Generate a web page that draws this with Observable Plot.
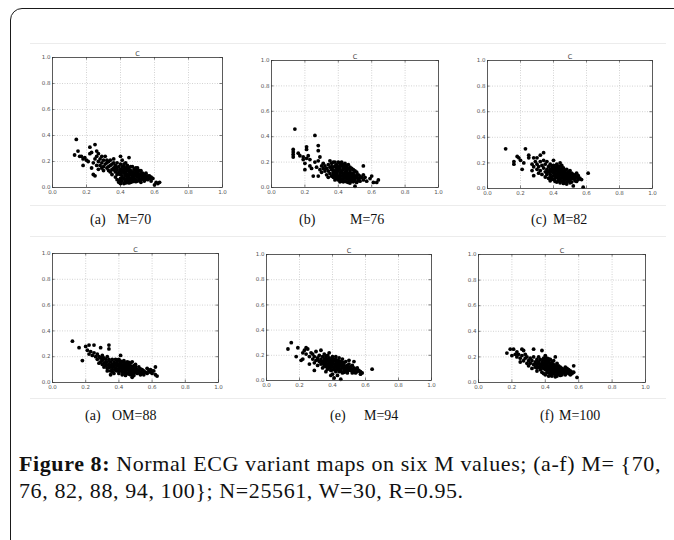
<!DOCTYPE html>
<html>
<head>
<meta charset="utf-8">
<script src="https://cdn.jsdelivr.net/npm/d3@7"></script>
<script src="https://cdn.jsdelivr.net/npm/@observablehq/plot@0.6"></script>
<style>
  html, body { margin: 0; padding: 0; background: #fff; }
  #page { position: relative; width: 674px; height: 540px; overflow: hidden; background: #fff; }
  #border { position: absolute; left: 10px; top: 8px; width: 760px; height: 640px; border: 1.8px solid #1a1a1a; border-top-left-radius: 12px; box-sizing: border-box; }
  .hair { position: absolute; height: 0; border-top: 1px solid #ececec; }
  .panel { position: absolute; }
  .cap { position: absolute; font-family: "Liberation Serif", "DejaVu Serif", serif; font-size: 14px; line-height: 16px; white-space: pre; color: #111; }
  #fig { position: absolute; left: 19px; top: 450px; font-family: "Liberation Serif", "DejaVu Serif", serif; font-size: 22px; line-height: 27px; color: #111; white-space: nowrap; }
</style>
</head>
<body>
<div id="page">
  <div id="border"></div>
</div>
<script>
// ---- data: (x, y) points ----
const ticks = [0.0, 0.2, 0.4, 0.6, 0.8, 1.0];
const panelTitle = "C";
const capLabels = ["(a)", "(b)", "(c)", "(a)", "(e)", "(f)"];
const capValues = ["M=70", "M=76", "M=82", "OM=88", "M=94", "M=100"];
const figLabel = "Figure 8:";
const figLine1 = " Normal ECG variant maps on six M values; (a-f) M= {70,";
const figLine2 = "76, 82, 88, 94, 100}; N=25561, W=30, R=0.95.";

const ptsA = [[.14,.37],[.13,.25],[.15,.28],[.16,.24],[.17,.24],[.18,.22],[.18,.17],[.19,.23],[.20,.21],[.21,.20],[.22,.31],[.22,.26],[.23,.27],[.23,.15],[.24,.19],[.24,.10],[.25,.33],[.25,.09],[.25,.22],[.26,.28],[.26,.24],[.26,.17],[.27,.26],[.27,.20],[.27,.14],[.28,.22],[.28,.17],[.29,.19],[.29,.15],[.29,.24],[.30,.21],[.30,.16],[.30,.13],[.31,.24],[.31,.18],[.32,.19],[.32,.15],[.32,.21],[.33,.16],[.33,.13],[.33,.20],[.34,.21],[.34,.17],[.34,.12],[.35,.18],[.35,.14],[.35,.10],[.36,.15],[.36,.22],[.36,.19],[.37,.12],[.37,.17],[.37,.08],[.38,.19],[.38,.14],[.38,.10],[.38,.06],[.39,.16],[.39,.12],[.39,.04],[.40,.24],[.40,.18],[.40,.14],[.40,.10],[.40,.07],[.40,.03],[.41,.21],[.41,.16],[.41,.12],[.41,.09],[.41,.05],[.42,.18],[.42,.14],[.42,.11],[.42,.07],[.42,.03],[.43,.19],[.43,.15],[.43,.12],[.43,.09],[.43,.05],[.44,.17],[.44,.13],[.44,.10],[.44,.07],[.44,.04],[.45,.23],[.45,.15],[.45,.12],[.45,.08],[.45,.05],[.46,.16],[.46,.13],[.46,.10],[.46,.07],[.46,.04],[.47,.16],[.47,.12],[.47,.09],[.47,.06],[.48,.14],[.48,.11],[.48,.08],[.48,.05],[.49,.15],[.49,.12],[.49,.09],[.49,.06],[.50,.15],[.50,.11],[.50,.08],[.50,.05],[.51,.13],[.51,.10],[.51,.07],[.52,.13],[.52,.09],[.52,.06],[.52,.04],[.53,.11],[.53,.08],[.54,.10],[.54,.07],[.54,.05],[.55,.11],[.55,.08],[.56,.09],[.56,.06],[.57,.09],[.57,.07],[.58,.08],[.58,.05],[.59,.07],[.61,.04],[.62,.03],[.63,.04],[.60,.02],
  [.39,.055],[.41,.075],[.43,.065],[.45,.095],[.47,.075],[.49,.105],[.51,.085],[.53,.065],[.42,.125],[.44,.085],[.46,.115],[.48,.095],[.50,.125],[.40,.125],[.38,.155],[.42,.165],[.44,.145],[.46,.055],[.48,.065],[.50,.095],[.52,.115],[.54,.085],[.56,.075],[.43,.035],[.45,.035],[.47,.045],[.49,.045],[.51,.055],[.36,.135],[.37,.145],[.39,.105],[.41,.135],[.43,.105],[.45,.135],[.47,.105],[.49,.135],[.40,.045],[.44,.055],[.53,.095],[.55,.065]];

const ptsB = [[.14,.46],[.26,.41],[.28,.33],[.13,.30],[.13,.28],[.13,.26],[.13,.24],[.16,.27],[.17,.25],[.19,.24],[.19,.22],[.21,.32],[.21,.30],[.21,.23],[.22,.25],[.23,.22],[.20,.19],[.20,.14],[.23,.17],[.24,.15],[.25,.09],[.26,.20],[.27,.16],[.28,.29],[.28,.21],[.28,.09],[.29,.24],[.29,.14],[.30,.17],[.30,.12],[.31,.15],[.31,.19],[.32,.13],[.32,.17],[.33,.15],[.33,.10],[.34,.18],[.34,.13],[.34,.08],[.35,.21],[.35,.16],[.35,.11],[.36,.19],[.36,.14],[.36,.09],[.37,.20],[.37,.16],[.37,.12],[.37,.08],[.38,.20],[.38,.17],[.38,.13],[.38,.10],[.38,.06],[.39,.18],[.39,.15],[.39,.11],[.39,.07],[.40,.20],[.40,.16],[.40,.13],[.40,.09],[.40,.06],[.41,.19],[.41,.15],[.41,.11],[.41,.07],[.42,.20],[.42,.17],[.42,.13],[.42,.09],[.42,.05],[.43,.18],[.43,.14],[.43,.11],[.43,.07],[.44,.19],[.44,.16],[.44,.12],[.44,.09],[.44,.05],[.45,.17],[.45,.14],[.45,.10],[.45,.07],[.46,.18],[.46,.15],[.46,.11],[.46,.08],[.46,.04],[.47,.16],[.47,.12],[.47,.09],[.47,.06],[.48,.15],[.48,.11],[.48,.08],[.48,.05],[.49,.14],[.49,.10],[.49,.07],[.50,.13],[.50,.09],[.50,.06],[.50,.01],[.51,.12],[.51,.08],[.51,.04],[.52,.10],[.52,.07],[.53,.09],[.53,.05],[.54,.08],[.55,.17],[.55,.10],[.55,.06],[.56,.08],[.57,.05],[.59,.07],[.60,.09],[.61,.04],[.63,.04],[.64,.06],
  [.38,.085],[.40,.075],[.42,.065],[.44,.075],[.46,.065],[.48,.065],[.50,.075],[.39,.125],[.41,.095],[.43,.095],[.45,.085],[.47,.075],[.49,.085],[.51,.095],[.40,.145],[.42,.115],[.44,.105],[.46,.095],[.48,.095],[.37,.105],[.39,.165],[.41,.175],[.43,.155],[.45,.125],[.47,.105],[.42,.185],[.44,.175],[.36,.165],[.43,.045],[.45,.045],[.47,.035],[.49,.045],[.52,.055],[.41,.045],[.39,.095],[.37,.135],[.45,.155],[.47,.135],[.49,.115],[.53,.075]];

const ptsC = [[.11,.31],[.23,.31],[.16,.21],[.16,.19],[.18,.25],[.19,.24],[.20,.22],[.21,.15],[.22,.20],[.25,.26],[.25,.24],[.28,.24],[.30,.24],[.32,.26],[.34,.28],[.27,.14],[.28,.10],[.27,.19],[.28,.17],[.29,.21],[.30,.15],[.30,.19],[.31,.12],[.31,.17],[.32,.21],[.32,.14],[.33,.18],[.33,.11],[.34,.16],[.34,.22],[.35,.13],[.35,.19],[.35,.09],[.36,.15],[.36,.21],[.36,.11],[.37,.17],[.37,.13],[.37,.08],[.38,.19],[.38,.15],[.38,.11],[.38,.06],[.39,.17],[.39,.13],[.39,.09],[.40,.22],[.40,.18],[.40,.14],[.40,.10],[.40,.07],[.41,.16],[.41,.12],[.41,.08],[.42,.19],[.42,.15],[.42,.11],[.42,.05],[.43,.17],[.43,.13],[.43,.09],[.43,.06],[.44,.20],[.44,.15],[.44,.11],[.44,.08],[.45,.18],[.45,.13],[.45,.10],[.45,.06],[.46,.16],[.46,.12],[.46,.08],[.46,.04],[.47,.14],[.47,.11],[.47,.07],[.48,.15],[.48,.12],[.48,.09],[.48,.05],[.49,.13],[.49,.10],[.49,.06],[.50,.14],[.50,.11],[.50,.07],[.51,.12],[.51,.09],[.51,.05],[.52,.11],[.52,.08],[.53,.10],[.53,.06],[.52,.02],[.54,.09],[.54,.12],[.55,.07],[.55,.10],[.56,.08],[.57,.07],[.58,.01],[.61,.12],
  [.38,.085],[.40,.125],[.42,.095],[.44,.065],[.46,.105],[.48,.075],[.50,.095],[.41,.105],[.43,.075],[.45,.085],[.47,.095],[.49,.085],[.51,.075],[.39,.145],[.41,.145],[.43,.115],[.45,.115],[.47,.125],[.49,.115],[.42,.135],[.44,.135],[.46,.135],[.40,.165],[.42,.175],[.44,.175],[.38,.135],[.36,.125],[.46,.055],[.48,.035],[.50,.045],[.44,.045],[.52,.095],[.53,.075],[.54,.055],[.39,.075],[.41,.055],[.43,.155],[.45,.155],[.47,.085],[.55,.085]];

const ptsD = [[.12,.32],[.16,.27],[.18,.17],[.20,.28],[.22,.29],[.21,.25],[.23,.24],[.25,.29],[.29,.27],[.34,.29],[.34,.26],[.41,.21],[.62,.12],[.62,.06],[.60,.09],[.22,.22],[.24,.21],[.25,.23],[.26,.20],[.27,.22],[.27,.18],[.28,.20],[.28,.15],[.29,.19],[.29,.16],[.30,.21],[.30,.17],[.30,.14],[.31,.19],[.31,.15],[.32,.18],[.32,.13],[.33,.16],[.33,.20],[.33,.11],[.34,.14],[.34,.18],[.35,.12],[.35,.16],[.35,.09],[.36,.14],[.36,.18],[.36,.10],[.37,.12],[.37,.16],[.37,.07],[.38,.15],[.38,.11],[.38,.18],[.39,.13],[.39,.09],[.39,.16],[.40,.14],[.40,.11],[.40,.07],[.40,.18],[.41,.12],[.41,.15],[.41,.09],[.42,.13],[.42,.16],[.42,.10],[.42,.06],[.43,.14],[.43,.11],[.43,.08],[.43,.17],[.44,.12],[.44,.15],[.44,.09],[.45,.13],[.45,.10],[.45,.07],[.45,.16],[.46,.12],[.46,.14],[.46,.08],[.47,.11],[.47,.15],[.47,.09],[.47,.06],[.48,.12],[.48,.10],[.48,.16],[.48,.04],[.49,.13],[.49,.09],[.49,.07],[.50,.11],[.50,.08],[.50,.14],[.51,.10],[.51,.07],[.52,.09],[.52,.12],[.53,.08],[.53,.06],[.54,.10],[.54,.07],[.55,.09],[.55,.06],[.56,.08],[.57,.11],[.57,.07],[.58,.09],[.59,.08],[.59,.10],[.60,.07],[.61,.09],[.63,.05],[.35,.06],[.33,.09],[.31,.12],
  [.36,.125],[.38,.135],[.40,.125],[.42,.115],[.44,.105],[.46,.095],[.48,.085],[.50,.095],[.37,.145],[.39,.145],[.41,.135],[.43,.125],[.45,.115],[.47,.125],[.49,.105],[.51,.085],[.40,.095],[.42,.085],[.44,.075],[.46,.065],[.48,.065],[.38,.095],[.36,.085],[.34,.115],[.32,.155],[.30,.185],[.41,.165],[.43,.155],[.45,.145],[.39,.175],[.47,.075],[.49,.055],[.44,.055],[.52,.075],[.53,.105],[.55,.075],[.35,.135],[.33,.135],[.46,.155],[.50,.125]];

const ptsE = [[.15,.30],[.13,.25],[.18,.19],[.19,.26],[.21,.16],[.22,.17],[.23,.24],[.24,.26],[.25,.25],[.26,.13],[.29,.08],[.64,.09],[.45,.01],[.57,.05],[.22,.22],[.24,.21],[.26,.19],[.27,.22],[.28,.17],[.28,.21],[.29,.14],[.29,.19],[.30,.16],[.30,.23],[.31,.18],[.31,.12],[.32,.20],[.32,.15],[.33,.17],[.33,.13],[.33,.24],[.34,.19],[.34,.15],[.34,.10],[.35,.21],[.35,.17],[.35,.13],[.36,.19],[.36,.15],[.36,.11],[.36,.07],[.37,.17],[.37,.13],[.37,.20],[.37,.09],[.38,.18],[.38,.14],[.38,.10],[.38,.22],[.39,.16],[.39,.12],[.39,.08],[.40,.19],[.40,.15],[.40,.11],[.40,.05],[.41,.17],[.41,.13],[.41,.09],[.42,.15],[.42,.11],[.42,.07],[.42,.19],[.43,.13],[.43,.16],[.43,.09],[.43,.04],[.44,.14],[.44,.11],[.44,.07],[.44,.18],[.45,.12],[.45,.15],[.45,.09],[.46,.13],[.46,.10],[.46,.06],[.46,.17],[.47,.12],[.47,.14],[.47,.08],[.48,.11],[.48,.15],[.48,.07],[.49,.12],[.49,.09],[.49,.06],[.50,.13],[.50,.10],[.50,.16],[.51,.11],[.51,.08],[.52,.09],[.52,.12],[.52,.06],[.53,.10],[.53,.07],[.54,.09],[.54,.06],[.55,.10],[.55,.07],[.56,.08],[.57,.07],[.58,.06],[.53,.15],[.39,.04],[.41,.02],
  [.34,.135],[.36,.135],[.38,.125],[.40,.135],[.42,.125],[.44,.125],[.46,.115],[.48,.095],[.50,.085],[.35,.155],[.37,.155],[.39,.145],[.41,.155],[.43,.145],[.45,.135],[.47,.105],[.49,.105],[.51,.095],[.36,.175],[.38,.165],[.40,.175],[.42,.165],[.44,.155],[.46,.145],[.39,.105],[.41,.105],[.43,.105],[.45,.075],[.47,.065],[.49,.075],[.37,.115],[.35,.115],[.33,.155],[.31,.165],[.40,.085],[.42,.085],[.44,.095],[.52,.075],[.53,.085],[.55,.085]];

const ptsF = [[.17,.23],[.19,.26],[.20,.21],[.21,.26],[.23,.24],[.26,.26],[.27,.25],[.25,.16],[.33,.26],[.38,.25],[.46,.20],[.57,.13],[.59,.04],[.56,.08],[.22,.22],[.23,.20],[.24,.22],[.25,.19],[.26,.21],[.27,.17],[.28,.19],[.28,.22],[.29,.15],[.29,.20],[.30,.17],[.30,.13],[.31,.19],[.31,.15],[.32,.17],[.32,.11],[.33,.14],[.33,.20],[.34,.16],[.34,.12],[.35,.18],[.35,.14],[.35,.09],[.36,.16],[.36,.12],[.36,.20],[.37,.14],[.37,.10],[.37,.18],[.38,.12],[.38,.16],[.38,.08],[.39,.19],[.39,.15],[.39,.11],[.39,.07],[.40,.21],[.40,.18],[.40,.14],[.40,.10],[.40,.06],[.41,.19],[.41,.16],[.41,.12],[.41,.08],[.42,.17],[.42,.13],[.42,.10],[.42,.05],[.43,.18],[.43,.15],[.43,.11],[.43,.07],[.44,.16],[.44,.13],[.44,.09],[.44,.05],[.45,.14],[.45,.11],[.45,.07],[.45,.17],[.46,.13],[.46,.10],[.46,.06],[.47,.12],[.47,.09],[.47,.15],[.47,.05],[.48,.11],[.48,.08],[.48,.13],[.49,.10],[.49,.07],[.49,.12],[.50,.09],[.50,.11],[.50,.06],[.51,.10],[.51,.08],[.52,.09],[.52,.06],[.53,.08],[.53,.11],[.54,.07],[.55,.09],[.55,.06],[.56,.07],[.57,.08],[.52,.12],[.54,.10],
  [.38,.145],[.40,.125],[.42,.115],[.44,.115],[.46,.115],[.48,.095],[.50,.075],[.39,.135],[.41,.145],[.43,.135],[.45,.125],[.47,.105],[.49,.085],[.51,.085],[.40,.165],[.42,.155],[.44,.145],[.46,.085],[.48,.065],[.37,.125],[.36,.145],[.41,.105],[.43,.095],[.45,.095],[.47,.075],[.40,.195],[.41,.175],[.39,.175],[.42,.185],[.35,.115],[.34,.145],[.44,.075],[.42,.075],[.50,.095],[.52,.075],[.53,.095],[.54,.085],[.49,.055],[.46,.045],[.43,.055]];

// ---- layout (plot-area boxes in page pixels) ----
const series = [ptsA, ptsB, ptsC, ptsD, ptsE, ptsF];
const boxes = [
  {L: 52, T: 57, W: 170, H: 130},
  {L: 271, T: 60, W: 167, H: 127},
  {L: 487, T: 60, W: 165, H: 128},
  {L: 52, T: 253, W: 166, H: 129},
  {L: 266, T: 254, W: 165, H: 126},
  {L: 478, T: 254, W: 167, H: 128}
];
// label x, value x, center y
const capPos = [
  {a: 90, b: 117, y: 220}, {a: 299, b: 350, y: 220}, {a: 531, b: 553, y: 220},
  {a: 85, b: 112, y: 416}, {a: 330, b: 364, y: 416}, {a: 540, b: 559, y: 416}
];
const hairs = [
  {x: 30, y: 43, w: 636}, {x: 30, y: 205, w: 636},
  {x: 30, y: 236, w: 636}, {x: 30, y: 398, w: 636}
];

const page = document.getElementById("page");
for (const h of hairs) {
  const d = document.createElement("div");
  d.className = "hair";
  d.style.left = h.x + "px"; d.style.top = h.y + "px"; d.style.width = h.w + "px";
  page.appendChild(d);
}

const mL = 28, mT = 14, mR = 10, mB = 14;
series.forEach((pts, i) => {
  const b = boxes[i];
  const chart = Plot.plot({
    width: b.W + mL + mR,
    height: b.H + mT + mB,
    marginLeft: mL, marginTop: mT, marginRight: mR, marginBottom: mB,
    style: {background: "transparent", fontFamily: "DejaVu Sans, sans-serif", overflow: "visible", color: "#555"},
    x: {domain: [0, 1]},
    y: {domain: [0, 1]},
    marks: [
      Plot.gridX(ticks.slice(1, -1), {stroke: "#b5b5b5", strokeOpacity: 1, strokeWidth: 0.6, strokeDasharray: "1,1.5"}),
      Plot.gridY(ticks.slice(1, -1), {stroke: "#b5b5b5", strokeOpacity: 1, strokeWidth: 0.6, strokeDasharray: "1,1.5"}),
      Plot.tickX(ticks, {x: d => d, insetTop: b.H - 2.5, stroke: "#333", strokeWidth: 0.6}),
      Plot.tickX(ticks, {x: d => d, insetBottom: b.H - 2.5, stroke: "#333", strokeWidth: 0.6}),
      Plot.tickY(ticks, {y: d => d, insetRight: b.W - 2.5, stroke: "#333", strokeWidth: 0.6}),
      Plot.tickY(ticks, {y: d => d, insetLeft: b.W - 2.5, stroke: "#333", strokeWidth: 0.6}),
      Plot.dot(pts, {x: d => d[0], y: d => d[1], r: 1.9, fill: "#000", stroke: "none"}),
      Plot.frame({stroke: "#333", strokeWidth: 0.8}),
      Plot.axisX(ticks, {tickSize: 0, tickPadding: 3, fontSize: 5.5, fill: "#555", tickFormat: d3.format(".1f")}),
      Plot.axisY(ticks, {tickSize: 0, tickPadding: 2, fontSize: 5.5, fill: "#555", tickFormat: d3.format(".1f")}),
      Plot.text([panelTitle], {text: d => d, frameAnchor: "top", dy: -2, lineAnchor: "bottom", fontSize: 6.5, fill: "#444"})
    ]
  });
  chart.classList.add("panel");
  chart.style.left = (b.L - mL) + "px";
  chart.style.top = (b.T - mT) + "px";
  page.appendChild(chart);
});

capLabels.forEach((c, i) => {
  for (const [txt, x] of [[c, capPos[i].a], [capValues[i], capPos[i].b]]) {
    const d = document.createElement("div");
    d.className = "cap";
    d.textContent = txt;
    d.style.left = x + "px";
    d.style.top = (capPos[i].y - 8) + "px";
    page.appendChild(d);
  }
});

const fig = document.createElement("div");
fig.id = "fig";
const l1 = document.createElement("div");
const bold = document.createElement("b");
bold.textContent = figLabel;
l1.appendChild(bold);
l1.appendChild(document.createTextNode(figLine1));
const l2 = document.createElement("div");
l2.textContent = figLine2;
fig.appendChild(l1);
fig.appendChild(l2);
page.appendChild(fig);
// stretch the first line to the reference width with letter spacing
l1.style.display = "inline-block";
const w1 = l1.getBoundingClientRect().width;
const n1 = (figLabel + figLine1).length;
const ls = (642 - w1) / n1;
fig.style.letterSpacing = ls.toFixed(2) + "px";
l1.style.display = "block";
</script>
</body>
</html>
